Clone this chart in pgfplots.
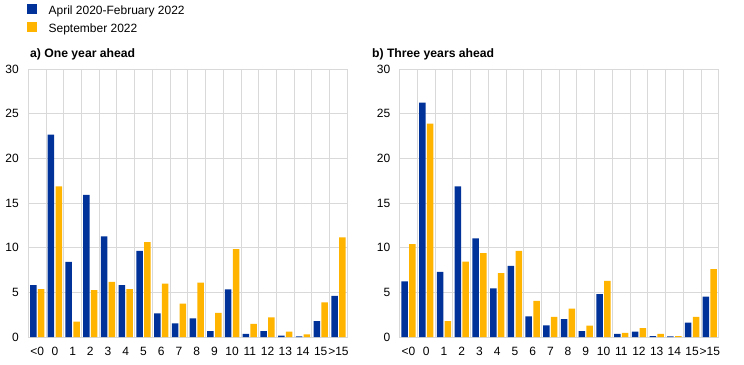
\documentclass[border=0pt]{standalone}
\usepackage{fontspec}
\setmainfont{Liberation Sans}
\usepackage{pgfplots}
\usepackage{pgfplotstable}
\pgfplotsset{compat=1.18}
\definecolor{ecbblue}{HTML}{003299}
\definecolor{ecbyellow}{HTML}{FFB400}
\definecolor{gridgray}{HTML}{D9D9D9}

\pgfplotstableread{
x a1 a2 b1 b2
0 5.82 5.37 6.23 10.41
1 22.65 16.87 26.24 23.89
2 8.40 1.72 7.28 1.79
3 15.90 5.26 16.87 8.43
4 11.27 6.16 11.04 9.40
5 5.82 5.37 5.45 7.16
6 9.63 10.63 7.95 9.63
7 2.65 5.97 2.31 4.03
8 1.53 3.73 1.31 2.24
9 2.09 6.08 2.01 3.17
10 0.67 2.69 0.67 1.27
11 5.34 9.85 4.81 6.27
12 0.34 1.46 0.34 0.45
13 0.67 2.20 0.60 1.00
14 0.15 0.60 0.11 0.34
15 0.06 0.30 0.07 0.11
16 1.79 3.88 1.60 2.24
17 4.59 11.16 4.51 7.61
}\data

\pgfplotsset{
  panel/.style={
    scale only axis, width=319bp, height=268bp,
    xmin=-0.5, xmax=17.5, ymin=0, ymax=30,
    ytick={0,5,...,30},
    xtick={0,...,17},
    xticklabels={\textless0,0,1,2,3,4,5,6,7,8,9,10,11,12,13,14,15,\textgreater15},
    minor xtick={-0.5,0.5,...,17.5},
    xminorgrids, ymajorgrids,
    grid style={gridgray, line width=0.9bp},
    minor grid style={gridgray, line width=0.9bp},
    axis line style={gridgray, line width=0.9bp},
    major tick length=0pt, minor tick length=0pt,
    tick style={draw=none},
    tick label style={font=\fontsize{12bp}{14bp}\selectfont},
    /pgf/number format/assume math mode=true,
    yticklabel style={xshift=-6bp},
    xticklabel style={yshift=-7bp},
    ybar=1.3bp, bar width=6.5bp,
    every axis title shift=0pt,
    title style={anchor=west, inner sep=0pt, yshift=0pt, font=\fontsize{12.2bp}{14bp}\selectfont\bfseries},
    legend image code/.code={\fill[##1] (0bp,-3.8bp) rectangle (10bp,6.2bp);},
  }
}

\begin{document}
\begin{tikzpicture}
\path[use as bounding box] (0,0) rectangle (744bp,365bp);
\begin{axis}[panel, at={(28.3bp,28bp)}, anchor=south west,
  title={a) One year ahead}, title style={at={(0.005,1.0534)}},
  legend style={at={(-0.004,1.2425)}, anchor=north west, draw=none, fill=none,
    inner sep=0pt, font=\fontsize{12bp}{14bp}\selectfont, row sep=6.7bp,
    nodes={inner sep=0pt, text height=9.3bp, text depth=0.7bp},
    /tikz/every odd column/.append style={column sep=11.4bp}},
  legend cell align=left]
\addplot[fill=ecbblue, draw=none] table[x=x, y=a1] {\data};
\addplot[fill=ecbyellow, draw=none] table[x=x, y=a2] {\data};
\legend{April 2020-February 2022, September 2022}
\end{axis}
\begin{axis}[panel, at={(399.7bp,28bp)}, anchor=south west,
  title={b) Three years ahead}, title style={at={(-0.087,1.0534)}}]
\addplot[fill=ecbblue, draw=none] table[x=x, y=b1] {\data};
\addplot[fill=ecbyellow, draw=none] table[x=x, y=b2] {\data};
\end{axis}
\end{tikzpicture}
\end{document}
